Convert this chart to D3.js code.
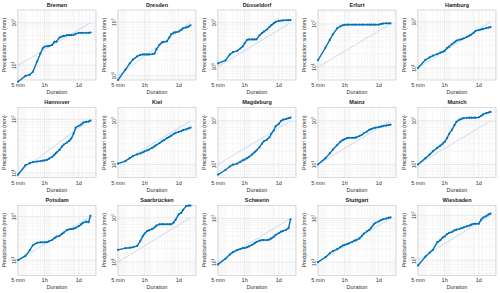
<!DOCTYPE html>
<html>
<head>
<meta charset="utf-8">
<script src="https://cdn.jsdelivr.net/npm/d3@7"></script>
<style>
  body { margin: 0; background: #fff; }
  svg { font-family: "Liberation Sans", Arial, sans-serif; }
</style>
</head>
<body>
<div id="chart-area"></div>
<script>
// duration steps (minutes) shared by every station
const durations = [5,10,15,20,30,40,50,60,75,90,120,150,180,240,300,360,480,600,720,900,1080,1440,1800,2160,2880,3600,4320]

const stations = ["Bremen","Dresden","Düsseldorf","Erfurt","Hamburg",
                  "Hannover","Kiel","Magdeburg","Mainz","Munich",
                  "Potsdam","Saarbrücken","Schwerin","Stuttgart","Wiesbaden"]

// precipitation sums (mm), one per duration
const bremen      = [4.1,5.6,6.0,7.0,12.4,18.6,25,27.5,28,28.5,30,35.7,36,45,47.5,49,51,51,51,52,55,58,58,58,58,58,59]
const dresden     = [8.3,13,17,20,23,24.5,25,25,25,25,25.2,26,31,38,42,43,44,52,60,64,65,67,72,77,80,83,88]
const duesseldorf = [11.9,14,19,21.5,23,26,29,34,41,41.7,41.7,41.7,42,52,58,63,70,80,88,97,105,110,112,113,114,114,115]
const erfurt      = [14.4,28,42.6,57,79,88,93,95,96,96,96,96,96,96,96,96,96,96,96,96,96,96,100,102,103,103,103]
const hamburg     = [10,15,17,18.5,20,21.5,22.5,23.5,27,29,33,36,39,41,42,44,47,50,53,58,64,66,68,70,73,75,77]
const hannover    = [9.3,14,15.3,16,16.4,16.7,17,17.2,17.7,18.5,20,22,24,27,31,34,37,40,44,55,70,76,80,87,90,91,95]
const kiel        = [10.5,12,14,15.5,17,18,19,20,21,22,24,26,28,31,34,36,40,43,46,50,53,56,58,61,64,67,70]
const magdeburg   = [5.9,7.5,9,9.9,10.5,11.5,12.5,13,14,15,17,19,21,25,30,34,37,42,50,60,75,85,100,106,110,115,118]
const mainz       = [10,14,18,22,28,33,36,38,40,41,41,41,42,45,48,52,57,62,65,68,70,72,74,76,78,80,82]
const munich      = [10,14,17,20,24,27,30,33,40,50,63,80,95,106,112,115,117,118,118,118,118,120,130,140,150,155,160]
const potsdam     = [10,12.5,17,22,25,25.5,25.6,25.6,26,27,29,32,34.5,36,40,43,49,51,51,53,55,60,66,72,76,74,104]
const saarbruecken= [18.8,20.5,21,21.5,23,30,38,44,50,52,55,60,66,71,71,71,71,71,71,78,90,119,128,150,182,188,188]
const schwerin    = [8.9,12,15,17,19,20,21,21,22,23,25,27,29,31,32,32,32,33,35,38,42,46,50,52,55,60,96]
const stuttgart   = [10,13,16,18,20,22,24,25,26,27,29,31,32,35,40,45,51,55,62,73,80,86,92,96,100,103,106]
const wiesbaden   = [7.6,12,14.8,17,25,28,32,34,38,40.5,43,46,48,50,52,54,57,59,62,65,65,65,80,89,96,105,109]

const series = [bremen,dresden,duesseldorf,erfurt,hamburg,hannover,kiel,magdeburg,
                mainz,munich,potsdam,saarbruecken,schwerin,stuttgart,wiesbaden]

// y-axis limits per panel (mm)
const yLow  = [4.5,8.3,5,5,5.5,8.2,5,5,5,5,4.5,5,5,5,4.6]
const yHigh = [200,170,195,210,180,165,200,200,200,200,180,190,200,200,167]

// reference line: [duration, mm] at both ends
const refStart = [5, 10]
const refEnd = [4320, 100]

const xTicks = [5, 60, 1440]
const xTickLabels = ["5 min", "1h", "1d"]
const yTicks = [10, 100]
const yTickLabels = ["1", "2"]

const W = 500, H = 293
const cellW = 100, cellH = 97.67
const box = { left: 18, top: 10, width: 78, height: 70 }

const svg = d3.select("#chart-area").append("svg")
    .attr("width", W)
    .attr("height", H)

const blue = "#0072BD"

const x = d3.scaleLog().domain([5, 7200]).range([0, box.width])

function minorVals(lo, hi) {
  let out = []
  for (let e = Math.floor(Math.log10(lo)); e <= Math.ceil(Math.log10(hi)); e++) {
    for (let k = 1; k < 10; k++) {
      let v = k * Math.pow(10, e)
      if (v > lo && v < hi) out.push(v)
    }
  }
  return out
}

stations.forEach((name, i) => {
  const col = i % 5, row = Math.floor(i / 5)
  const g = svg.append("g")
      .attr("transform", "translate(" + (col * cellW + box.left) + "," + (row * cellH + box.top) + ")")

  const y = d3.scaleLog().domain([yLow[i], yHigh[i]]).range([box.height, 0])

  // minor grid
  const grid = g.append("g")
  grid.selectAll(".xm").data(minorVals(5, 7200)).join("line")
      .attr("x1", d => x(d)).attr("x2", d => x(d))
      .attr("y1", 0).attr("y2", box.height)
      .attr("stroke", "#efefef").attr("stroke-width", 0.5)
  grid.selectAll(".ym").data(minorVals(yLow[i], yHigh[i])).join("line")
      .attr("class", "ym")
      .attr("x1", 0).attr("x2", box.width)
      .attr("y1", d => y(d)).attr("y2", d => y(d))
      .attr("stroke", "#efefef").attr("stroke-width", 0.5)
  // major grid
  grid.selectAll(".xM").data(xTicks).join("line")
      .attr("class", "xM")
      .attr("x1", d => x(d)).attr("x2", d => x(d))
      .attr("y1", 0).attr("y2", box.height)
      .attr("stroke", "#e0e0e0").attr("stroke-width", 0.5)
  grid.selectAll(".yM").data(yTicks).join("line")
      .attr("class", "yM")
      .attr("x1", 0).attr("x2", box.width)
      .attr("y1", d => y(d)).attr("y2", d => y(d))
      .attr("stroke", "#e0e0e0").attr("stroke-width", 0.5)

  g.append("rect")
      .attr("width", box.width).attr("height", box.height)
      .attr("fill", "none").attr("stroke", "#c4c4c4").attr("stroke-width", 0.6)

  // reference line
  g.append("line")
      .attr("x1", x(refStart[0])).attr("y1", y(refStart[1]))
      .attr("x2", x(refEnd[0])).attr("y2", y(refEnd[1]))
      .attr("stroke", "#b5cde9").attr("stroke-width", 0.7)

  const pts = durations.map((d, j) => [d, series[i][j]])
  g.append("path")
      .datum(pts)
      .attr("fill", "none")
      .attr("stroke", blue)
      .attr("stroke-width", 1.4)
      .attr("d", d3.line().x(d => x(d[0])).y(d => y(d[1])))
  g.selectAll("circle").data(pts).join("circle")
      .attr("cx", d => x(d[0])).attr("cy", d => y(d[1]))
      .attr("r", 1.1).attr("fill", blue)

  // title
  g.append("text")
      .attr("x", box.width / 2).attr("y", -3.5)
      .attr("text-anchor", "middle")
      .attr("font-size", 5.5).attr("font-weight", "bold")
      .attr("fill", "#222")
      .text(name)

  // x ticks
  g.selectAll(".xt").data(xTicks).join("text")
      .attr("class", "xt")
      .attr("x", d => x(d)).attr("y", box.height + 7)
      .attr("text-anchor", "middle")
      .attr("font-size", 5.5).attr("fill", "#333")
      .text((d, j) => xTickLabels[j])

  g.append("text")
      .attr("x", box.width / 2).attr("y", box.height + 14)
      .attr("text-anchor", "middle")
      .attr("font-size", 5.5).attr("fill", "#333")
      .text("Duration")

  // y ticks (rotated, 10^n)
  yTicks.forEach((t, j) => {
    const tx = g.append("text")
        .attr("transform", "translate(-2.5," + y(t) + ") rotate(-90)")
        .attr("text-anchor", "middle")
        .attr("font-size", 5).attr("fill", "#333")
    tx.append("tspan").text("10")
    tx.append("tspan").attr("dy", -2).attr("font-size", 3.5).text(yTickLabels[j])
  })

  g.append("text")
      .attr("transform", "translate(-12," + (box.height / 2) + ") rotate(-90)")
      .attr("text-anchor", "middle")
      .attr("font-size", 5.3).attr("fill", "#333")
      .text("Precipitation sum (mm)")
})
</script>
</body>
</html>
